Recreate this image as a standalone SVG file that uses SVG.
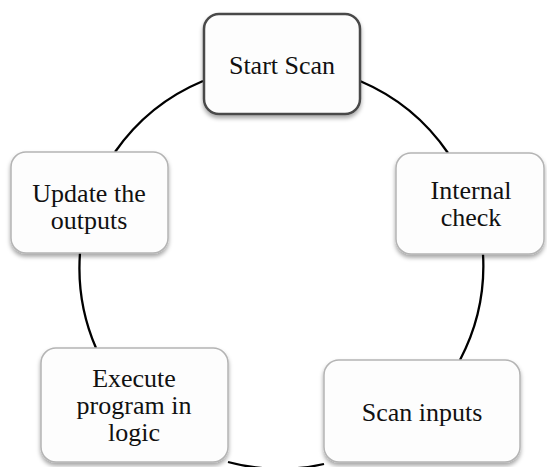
<svg xmlns="http://www.w3.org/2000/svg" width="547" height="467" viewBox="0 0 547 467">
  <style>
    .box { fill: #fdfdfd; stroke: #b4b4b4; stroke-width: 1.5; filter: url(#shadow); }
    .box.main { stroke: #4a4a4a; stroke-width: 2.5; }
    .label { font-family: "Liberation Serif", "Times New Roman", serif; font-size: 26px; fill: #111; text-anchor: middle; }
    .link { fill: none; stroke: #000; stroke-width: 2.3; }
  </style>
  <defs>
    <filter id="shadow" x="-10%" y="-10%" width="125%" height="130%">
      <feDropShadow dx="0" dy="3" stdDeviation="2" flood-color="#000" flood-opacity="0.35"/>
    </filter>
  </defs>

  <!-- cycle connectors: arcs of one circle, centre (281,267), r 202 -->
  <g id="connectors">
    <path class="link" d="M360,81 A202,202 0 0 1 448,153"/>
    <path class="link" d="M483,254 A202,202 0 0 1 460,360"/>
    <path class="link" d="M324,464 A202,202 0 0 1 228,462"/>
    <path class="link" d="M96,348 A202,202 0 0 1 80,253"/>
    <path class="link" d="M115,152 A202,202 0 0 1 203,81"/>
  </g>

  <g id="start-scan">
    <rect class="box main" x="204" y="14" width="156" height="100" rx="15"/>
    <text class="label" x="282" y="74">Start Scan</text>
  </g>

  <g id="internal-check">
    <rect class="box" x="396" y="153" width="148" height="101" rx="15"/>
    <text class="label" x="471" y="199">Internal</text>
    <text class="label" x="471" y="226">check</text>
  </g>

  <g id="scan-inputs">
    <rect class="box" x="324" y="360" width="196" height="102" rx="15"/>
    <text class="label" x="422" y="421">Scan inputs</text>
  </g>

  <g id="execute-program">
    <rect class="box" x="41" y="348" width="187" height="114" rx="15"/>
    <text class="label" x="134" y="387">Execute</text>
    <text class="label" x="134" y="414">program in</text>
    <text class="label" x="134" y="441">logic</text>
  </g>

  <g id="update-outputs">
    <rect class="box" x="11" y="152" width="157" height="101" rx="15"/>
    <text class="label" x="89" y="202">Update the</text>
    <text class="label" x="89" y="229">outputs</text>
  </g>
</svg>
